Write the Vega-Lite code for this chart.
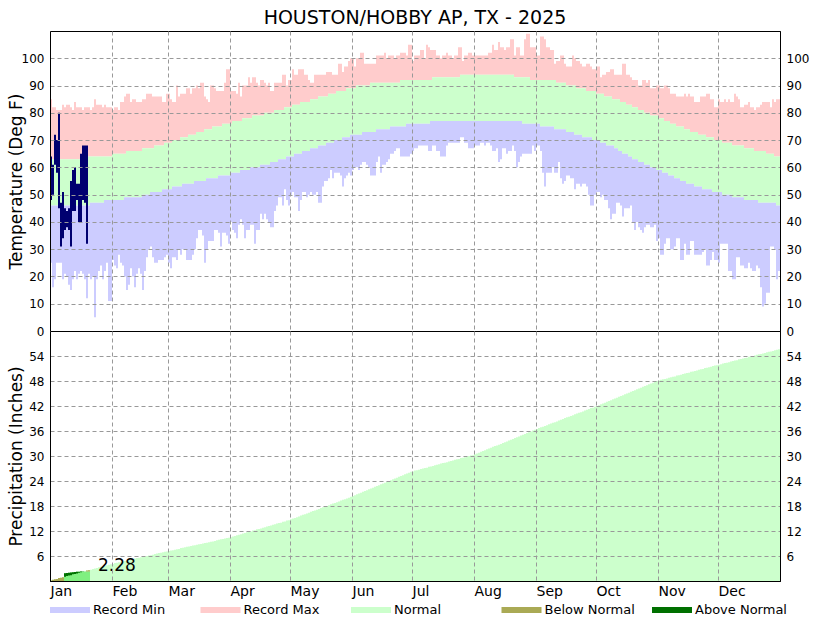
{
"$schema":"https://vega.github.io/schema/vega-lite/v6.json",
"background":"white",
"padding":{"left":6,"top":8,"right":10,"bottom":0},
"bounds":"flush",
"spacing":0,
"title":{"text":"HOUSTON/HOBBY AP, TX - 2025","font":"DejaVu Sans","fontSize":19,"fontWeight":"normal","color":"black","anchor":"middle","frame":"group","offset":3},
"datasets":{
"t":[
{"d":1,"rl":25,"nl":46,"nh":63,"rh":85,"pn":0.1},{"d":2,"rl":16,"nl":46,"nh":63,"rh":82,"pn":0.3},{"d":3,"rl":19,"nl":46,"nh":63,"rh":82,"pn":0.4},{"d":4,"rl":25,"nl":46,"nh":63,"rh":81,"pn":0.5},{"d":5,"rl":25,"nl":46,"nh":63,"rh":81,"pn":0.7},{"d":6,"rl":25,"nl":46,"nh":63,"rh":81,"pn":0.8},{"d":7,"rl":19,"nl":46,"nh":63,"rh":83,"pn":0.9},{"d":8,"rl":21,"nl":46,"nh":63,"rh":82,"pn":1.0},{"d":9,"rl":20,"nl":46,"nh":63,"rh":83,"pn":1.2},{"d":10,"rl":17,"nl":46,"nh":63,"rh":83,"pn":1.3},
{"d":11,"rl":15,"nl":46,"nh":63,"rh":82,"pn":1.4},{"d":12,"rl":19,"nl":46,"nh":63,"rh":81,"pn":1.6},{"d":13,"rl":22,"nl":46,"nh":63,"rh":84,"pn":1.7},{"d":14,"rl":19,"nl":46,"nh":63,"rh":82,"pn":1.8},{"d":15,"rl":21,"nl":46,"nh":63,"rh":82,"pn":2.0},{"d":16,"rl":22,"nl":46,"nh":63,"rh":82,"pn":2.1},{"d":17,"rl":21,"nl":46,"nh":63,"rh":81,"pn":2.2},{"d":18,"rl":19,"nl":46,"nh":63,"rh":82,"pn":2.3},{"d":19,"rl":12,"nl":46,"nh":63,"rh":82,"pn":2.5},{"d":20,"rl":21,"nl":46,"nh":64,"rh":82,"pn":2.6},
{"d":21,"rl":19,"nl":47,"nh":64,"rh":81,"pn":2.7},{"d":22,"rl":20,"nl":47,"nh":64,"rh":82,"pn":2.9},{"d":23,"rl":5,"nl":47,"nh":64,"rh":85,"pn":3.0},{"d":24,"rl":19,"nl":47,"nh":64,"rh":83,"pn":3.1},{"d":25,"rl":22,"nl":47,"nh":64,"rh":83,"pn":3.3},{"d":26,"rl":24,"nl":47,"nh":64,"rh":83,"pn":3.4},{"d":27,"rl":19,"nl":47,"nh":64,"rh":82,"pn":3.5},{"d":28,"rl":22,"nl":48,"nh":64,"rh":83,"pn":3.6},{"d":29,"rl":25,"nl":48,"nh":64,"rh":82,"pn":3.8},{"d":30,"rl":11,"nl":48,"nh":64,"rh":82,"pn":3.9},
{"d":31,"rl":11,"nl":48,"nh":64,"rh":82,"pn":4.0},{"d":32,"rl":26,"nl":48,"nh":65,"rh":81,"pn":4.1},{"d":33,"rl":24,"nl":48,"nh":65,"rh":82,"pn":4.3},{"d":34,"rl":23,"nl":48,"nh":65,"rh":82,"pn":4.4},{"d":35,"rl":28,"nl":48,"nh":65,"rh":81,"pn":4.5},{"d":36,"rl":25,"nl":48,"nh":65,"rh":84,"pn":4.6},{"d":37,"rl":24,"nl":48,"nh":65,"rh":84,"pn":4.7},{"d":38,"rl":20,"nl":49,"nh":65,"rh":86,"pn":4.8},{"d":39,"rl":15,"nl":49,"nh":66,"rh":87,"pn":4.9},{"d":40,"rl":17,"nl":49,"nh":66,"rh":87,"pn":5.0},
{"d":41,"rl":23,"nl":49,"nh":66,"rh":84,"pn":5.1},{"d":42,"rl":20,"nl":49,"nh":66,"rh":85,"pn":5.2},{"d":43,"rl":16,"nl":49,"nh":66,"rh":85,"pn":5.4},{"d":44,"rl":21,"nl":49,"nh":66,"rh":84,"pn":5.5},{"d":45,"rl":23,"nl":49,"nh":66,"rh":84,"pn":5.6},{"d":46,"rl":21,"nl":49,"nh":66,"rh":84,"pn":5.7},{"d":47,"rl":15,"nl":50,"nh":67,"rh":85,"pn":5.8},{"d":48,"rl":22,"nl":50,"nh":67,"rh":85,"pn":5.9},{"d":49,"rl":27,"nl":50,"nh":67,"rh":87,"pn":6.0},{"d":50,"rl":30,"nl":50,"nh":67,"rh":87,"pn":6.1},
{"d":51,"rl":31,"nl":51,"nh":67,"rh":87,"pn":6.2},{"d":52,"rl":27,"nl":51,"nh":67,"rh":86,"pn":6.3},{"d":53,"rl":25,"nl":51,"nh":68,"rh":86,"pn":6.5},{"d":54,"rl":25,"nl":51,"nh":68,"rh":86,"pn":6.6},{"d":55,"rl":26,"nl":51,"nh":68,"rh":86,"pn":6.7},{"d":56,"rl":26,"nl":51,"nh":68,"rh":86,"pn":6.8},{"d":57,"rl":26,"nl":52,"nh":68,"rh":84,"pn":6.9},{"d":58,"rl":27,"nl":52,"nh":69,"rh":84,"pn":7.0},{"d":59,"rl":28,"nl":52,"nh":69,"rh":87,"pn":7.1},{"d":60,"rl":25,"nl":52,"nh":69,"rh":87,"pn":7.2},
{"d":61,"rl":23,"nl":52,"nh":69,"rh":85,"pn":7.3},{"d":62,"rl":27,"nl":53,"nh":70,"rh":84,"pn":7.4},{"d":63,"rl":27,"nl":53,"nh":70,"rh":84,"pn":7.5},{"d":64,"rl":26,"nl":53,"nh":70,"rh":90,"pn":7.6},{"d":65,"rl":30,"nl":53,"nh":70,"rh":86,"pn":7.7},{"d":66,"rl":28,"nl":53,"nh":71,"rh":87,"pn":7.9},{"d":67,"rl":30,"nl":54,"nh":71,"rh":87,"pn":8.0},{"d":68,"rl":30,"nl":54,"nh":71,"rh":87,"pn":8.1},{"d":69,"rl":26,"nl":54,"nh":71,"rh":89,"pn":8.2},{"d":70,"rl":26,"nl":54,"nh":72,"rh":89,"pn":8.3},
{"d":71,"rl":26,"nl":54,"nh":72,"rh":87,"pn":8.4},{"d":72,"rl":28,"nl":54,"nh":72,"rh":89,"pn":8.5},{"d":73,"rl":30,"nl":55,"nh":72,"rh":89,"pn":8.6},{"d":74,"rl":34,"nl":55,"nh":73,"rh":90,"pn":8.7},{"d":75,"rl":37,"nl":55,"nh":73,"rh":89,"pn":8.8},{"d":76,"rl":37,"nl":55,"nh":73,"rh":91,"pn":8.9},{"d":77,"rl":35,"nl":55,"nh":73,"rh":91,"pn":9.0},{"d":78,"rl":25,"nl":55,"nh":74,"rh":86,"pn":9.1},{"d":79,"rl":30,"nl":56,"nh":74,"rh":85,"pn":9.2},{"d":80,"rl":33,"nl":56,"nh":74,"rh":84,"pn":9.3},
{"d":81,"rl":33,"nl":56,"nh":74,"rh":90,"pn":9.4},{"d":82,"rl":33,"nl":56,"nh":75,"rh":90,"pn":9.5},{"d":83,"rl":37,"nl":56,"nh":75,"rh":89,"pn":9.6},{"d":84,"rl":37,"nl":56,"nh":75,"rh":88,"pn":9.8},{"d":85,"rl":36,"nl":57,"nh":75,"rh":88,"pn":9.9},{"d":86,"rl":31,"nl":57,"nh":75,"rh":88,"pn":10.0},{"d":87,"rl":36,"nl":57,"nh":76,"rh":88,"pn":10.1},{"d":88,"rl":36,"nl":57,"nh":76,"rh":91,"pn":10.2},{"d":89,"rl":35,"nl":57,"nh":76,"rh":96,"pn":10.3},{"d":90,"rl":32,"nl":57,"nh":76,"rh":96,"pn":10.4},
{"d":91,"rl":40,"nl":58,"nh":76,"rh":88,"pn":10.5},{"d":92,"rl":37,"nl":58,"nh":77,"rh":88,"pn":10.7},{"d":93,"rl":36,"nl":58,"nh":77,"rh":88,"pn":10.8},{"d":94,"rl":34,"nl":58,"nh":77,"rh":87,"pn":11.0},{"d":95,"rl":39,"nl":58,"nh":77,"rh":91,"pn":11.1},{"d":96,"rl":41,"nl":59,"nh":77,"rh":86,"pn":11.2},{"d":97,"rl":39,"nl":59,"nh":78,"rh":90,"pn":11.4},{"d":98,"rl":34,"nl":59,"nh":78,"rh":90,"pn":11.5},{"d":99,"rl":37,"nl":59,"nh":78,"rh":90,"pn":11.7},{"d":100,"rl":37,"nl":59,"nh":78,"rh":93,"pn":11.8},
{"d":101,"rl":39,"nl":60,"nh":78,"rh":91,"pn":11.9},{"d":102,"rl":39,"nl":60,"nh":79,"rh":93,"pn":12.1},{"d":103,"rl":32,"nl":60,"nh":79,"rh":93,"pn":12.2},{"d":104,"rl":37,"nl":60,"nh":79,"rh":91,"pn":12.4},{"d":105,"rl":37,"nl":60,"nh":79,"rh":90,"pn":12.5},{"d":106,"rl":43,"nl":61,"nh":79,"rh":92,"pn":12.6},{"d":107,"rl":41,"nl":61,"nh":79,"rh":92,"pn":12.8},{"d":108,"rl":43,"nl":61,"nh":80,"rh":91,"pn":12.9},{"d":109,"rl":41,"nl":61,"nh":80,"rh":90,"pn":13.1},{"d":110,"rl":40,"nl":61,"nh":80,"rh":91,"pn":13.2},
{"d":111,"rl":38,"nl":62,"nh":80,"rh":88,"pn":13.3},{"d":112,"rl":38,"nl":62,"nh":80,"rh":88,"pn":13.5},{"d":113,"rl":44,"nl":62,"nh":81,"rh":91,"pn":13.6},{"d":114,"rl":46,"nl":62,"nh":81,"rh":91,"pn":13.8},{"d":115,"rl":49,"nl":63,"nh":81,"rh":91,"pn":13.9},{"d":116,"rl":49,"nl":63,"nh":81,"rh":91,"pn":14.0},{"d":117,"rl":46,"nl":63,"nh":81,"rh":94,"pn":14.2},{"d":118,"rl":52,"nl":63,"nh":82,"rh":94,"pn":14.3},{"d":119,"rl":48,"nl":64,"nh":82,"rh":90,"pn":14.5},{"d":120,"rl":46,"nl":64,"nh":82,"rh":92,"pn":14.6},
{"d":121,"rl":50,"nl":64,"nh":82,"rh":92,"pn":14.8},{"d":122,"rl":51,"nl":64,"nh":83,"rh":96,"pn":15.0},{"d":123,"rl":49,"nl":65,"nh":83,"rh":94,"pn":15.1},{"d":124,"rl":49,"nl":65,"nh":83,"rh":94,"pn":15.3},{"d":125,"rl":44,"nl":65,"nh":83,"rh":96,"pn":15.5},{"d":126,"rl":48,"nl":65,"nh":84,"rh":96,"pn":15.7},{"d":127,"rl":51,"nl":66,"nh":84,"rh":96,"pn":15.9},{"d":128,"rl":51,"nl":66,"nh":84,"rh":94,"pn":16.0},{"d":129,"rl":49,"nl":66,"nh":84,"rh":94,"pn":16.2},{"d":130,"rl":50,"nl":66,"nh":84,"rh":92,"pn":16.4},
{"d":131,"rl":51,"nl":67,"nh":85,"rh":91,"pn":16.6},{"d":132,"rl":50,"nl":67,"nh":85,"rh":91,"pn":16.8},{"d":133,"rl":50,"nl":67,"nh":85,"rh":94,"pn":16.9},{"d":134,"rl":51,"nl":67,"nh":85,"rh":94,"pn":17.1},{"d":135,"rl":47,"nl":68,"nh":86,"rh":94,"pn":17.3},{"d":136,"rl":47,"nl":68,"nh":86,"rh":94,"pn":17.5},{"d":137,"rl":53,"nl":68,"nh":86,"rh":94,"pn":17.7},{"d":138,"rl":55,"nl":68,"nh":86,"rh":94,"pn":17.8},{"d":139,"rl":55,"nl":69,"nh":86,"rh":95,"pn":18.0},{"d":140,"rl":56,"nl":69,"nh":87,"rh":95,"pn":18.2},
{"d":141,"rl":59,"nl":69,"nh":87,"rh":95,"pn":18.4},{"d":142,"rl":56,"nl":69,"nh":87,"rh":94,"pn":18.6},{"d":143,"rl":58,"nl":70,"nh":87,"rh":94,"pn":18.7},{"d":144,"rl":58,"nl":70,"nh":88,"rh":94,"pn":18.9},{"d":145,"rl":58,"nl":70,"nh":88,"rh":98,"pn":19.1},{"d":146,"rl":57,"nl":70,"nh":88,"rh":98,"pn":19.3},{"d":147,"rl":53,"nl":71,"nh":88,"rh":95,"pn":19.5},{"d":148,"rl":56,"nl":71,"nh":88,"rh":97,"pn":19.6},{"d":149,"rl":57,"nl":71,"nh":89,"rh":97,"pn":19.8},{"d":150,"rl":58,"nl":71,"nh":89,"rh":99,"pn":20.0},
{"d":151,"rl":57,"nl":72,"nh":89,"rh":100,"pn":20.2},{"d":152,"rl":59,"nl":72,"nh":89,"rh":100,"pn":20.4},{"d":153,"rl":60,"nl":72,"nh":89,"rh":97,"pn":20.6},{"d":154,"rl":60,"nl":72,"nh":90,"rh":100,"pn":20.8},{"d":155,"rl":59,"nl":72,"nh":90,"rh":100,"pn":21.0},{"d":156,"rl":61,"nl":72,"nh":90,"rh":102,"pn":21.2},{"d":157,"rl":62,"nl":73,"nh":90,"rh":102,"pn":21.4},{"d":158,"rl":62,"nl":73,"nh":90,"rh":98,"pn":21.6},{"d":159,"rl":61,"nl":73,"nh":90,"rh":98,"pn":21.8},{"d":160,"rl":60,"nl":73,"nh":90,"rh":98,"pn":22.0},
{"d":161,"rl":57,"nl":73,"nh":91,"rh":98,"pn":22.2},{"d":162,"rl":57,"nl":73,"nh":91,"rh":98,"pn":22.4},{"d":163,"rl":57,"nl":73,"nh":91,"rh":98,"pn":22.6},{"d":164,"rl":62,"nl":74,"nh":91,"rh":101,"pn":22.8},{"d":165,"rl":64,"nl":74,"nh":91,"rh":101,"pn":23.0},{"d":166,"rl":58,"nl":74,"nh":91,"rh":101,"pn":23.2},{"d":167,"rl":61,"nl":74,"nh":91,"rh":101,"pn":23.4},{"d":168,"rl":61,"nl":74,"nh":91,"rh":102,"pn":23.6},{"d":169,"rl":62,"nl":74,"nh":91,"rh":100,"pn":23.8},{"d":170,"rl":63,"nl":74,"nh":91,"rh":101,"pn":24.0},
{"d":171,"rl":65,"nl":75,"nh":91,"rh":101,"pn":24.2},{"d":172,"rl":65,"nl":75,"nh":91,"rh":101,"pn":24.4},{"d":173,"rl":66,"nl":75,"nh":91,"rh":100,"pn":24.6},{"d":174,"rl":67,"nl":75,"nh":91,"rh":101,"pn":24.8},{"d":175,"rl":67,"nl":75,"nh":91,"rh":101,"pn":25.0},{"d":176,"rl":64,"nl":75,"nh":92,"rh":102,"pn":25.2},{"d":177,"rl":64,"nl":75,"nh":92,"rh":102,"pn":25.4},{"d":178,"rl":64,"nl":75,"nh":92,"rh":102,"pn":25.6},{"d":179,"rl":64,"nl":76,"nh":92,"rh":101,"pn":25.8},{"d":180,"rl":64,"nl":76,"nh":92,"rh":105,"pn":26.0},
{"d":181,"rl":65,"nl":76,"nh":92,"rh":105,"pn":26.2},{"d":182,"rl":66,"nl":76,"nh":92,"rh":99,"pn":26.3},{"d":183,"rl":67,"nl":76,"nh":92,"rh":101,"pn":26.5},{"d":184,"rl":67,"nl":76,"nh":92,"rh":101,"pn":26.6},{"d":185,"rl":68,"nl":76,"nh":92,"rh":101,"pn":26.7},{"d":186,"rl":68,"nl":76,"nh":92,"rh":103,"pn":26.9},{"d":187,"rl":68,"nl":76,"nh":92,"rh":103,"pn":27.0},{"d":188,"rl":68,"nl":76,"nh":92,"rh":100,"pn":27.1},{"d":189,"rl":68,"nl":76,"nh":92,"rh":105,"pn":27.2},{"d":190,"rl":66,"nl":76,"nh":92,"rh":104,"pn":27.4},
{"d":191,"rl":66,"nl":77,"nh":92,"rh":103,"pn":27.5},{"d":192,"rl":68,"nl":77,"nh":93,"rh":103,"pn":27.6},{"d":193,"rl":68,"nl":77,"nh":93,"rh":103,"pn":27.8},{"d":194,"rl":66,"nl":77,"nh":93,"rh":101,"pn":27.9},{"d":195,"rl":66,"nl":77,"nh":93,"rh":101,"pn":28.0},{"d":196,"rl":64,"nl":77,"nh":93,"rh":100,"pn":28.2},{"d":197,"rl":64,"nl":77,"nh":93,"rh":101,"pn":28.3},{"d":198,"rl":64,"nl":77,"nh":93,"rh":101,"pn":28.4},{"d":199,"rl":68,"nl":77,"nh":93,"rh":102,"pn":28.5},{"d":200,"rl":69,"nl":77,"nh":93,"rh":101,"pn":28.7},
{"d":201,"rl":69,"nl":77,"nh":93,"rh":101,"pn":28.8},{"d":202,"rl":69,"nl":77,"nh":93,"rh":100,"pn":28.9},{"d":203,"rl":69,"nl":77,"nh":93,"rh":101,"pn":29.1},{"d":204,"rl":69,"nl":77,"nh":93,"rh":101,"pn":29.2},{"d":205,"rl":69,"nl":77,"nh":93,"rh":104,"pn":29.3},{"d":206,"rl":71,"nl":77,"nh":94,"rh":104,"pn":29.5},{"d":207,"rl":71,"nl":77,"nh":94,"rh":99,"pn":29.6},{"d":208,"rl":69,"nl":77,"nh":94,"rh":101,"pn":29.7},{"d":209,"rl":69,"nl":77,"nh":94,"rh":101,"pn":29.8},{"d":210,"rl":67,"nl":77,"nh":94,"rh":102,"pn":30.0},
{"d":211,"rl":67,"nl":77,"nh":94,"rh":102,"pn":30.1},{"d":212,"rl":67,"nl":77,"nh":94,"rh":101,"pn":30.2},{"d":213,"rl":68,"nl":77,"nh":94,"rh":101,"pn":30.4},{"d":214,"rl":68,"nl":77,"nh":94,"rh":101,"pn":30.6},{"d":215,"rl":68,"nl":77,"nh":94,"rh":101,"pn":30.8},{"d":216,"rl":69,"nl":77,"nh":94,"rh":101,"pn":31.0},{"d":217,"rl":69,"nl":77,"nh":94,"rh":101,"pn":31.2},{"d":218,"rl":68,"nl":77,"nh":94,"rh":101,"pn":31.4},{"d":219,"rl":69,"nl":77,"nh":94,"rh":101,"pn":31.6},{"d":220,"rl":69,"nl":77,"nh":94,"rh":102,"pn":31.8},
{"d":221,"rl":68,"nl":77,"nh":94,"rh":102,"pn":32.0},{"d":222,"rl":66,"nl":77,"nh":94,"rh":105,"pn":32.2},{"d":223,"rl":66,"nl":77,"nh":94,"rh":103,"pn":32.4},{"d":224,"rl":67,"nl":77,"nh":94,"rh":103,"pn":32.5},{"d":225,"rl":62,"nl":77,"nh":94,"rh":106,"pn":32.7},{"d":226,"rl":63,"nl":77,"nh":94,"rh":104,"pn":32.9},{"d":227,"rl":67,"nl":77,"nh":94,"rh":104,"pn":33.1},{"d":228,"rl":67,"nl":77,"nh":94,"rh":103,"pn":33.3},{"d":229,"rl":65,"nl":77,"nh":94,"rh":104,"pn":33.5},{"d":230,"rl":66,"nl":77,"nh":94,"rh":104,"pn":33.7},
{"d":231,"rl":66,"nl":77,"nh":94,"rh":107,"pn":33.9},{"d":232,"rl":68,"nl":77,"nh":94,"rh":107,"pn":34.1},{"d":233,"rl":66,"nl":77,"nh":93,"rh":101,"pn":34.3},{"d":234,"rl":60,"nl":77,"nh":93,"rh":104,"pn":34.5},{"d":235,"rl":62,"nl":77,"nh":93,"rh":104,"pn":34.7},{"d":236,"rl":64,"nl":77,"nh":93,"rh":101,"pn":34.9},{"d":237,"rl":65,"nl":76,"nh":93,"rh":101,"pn":35.1},{"d":238,"rl":65,"nl":76,"nh":93,"rh":107,"pn":35.3},{"d":239,"rl":65,"nl":76,"nh":93,"rh":109,"pn":35.5},{"d":240,"rl":65,"nl":76,"nh":93,"rh":109,"pn":35.7},
{"d":241,"rl":65,"nl":76,"nh":92,"rh":104,"pn":35.9},{"d":242,"rl":68,"nl":76,"nh":92,"rh":104,"pn":36.1},{"d":243,"rl":66,"nl":76,"nh":92,"rh":104,"pn":36.3},{"d":244,"rl":68,"nl":76,"nh":92,"rh":101,"pn":36.5},{"d":245,"rl":68,"nl":76,"nh":92,"rh":101,"pn":36.7},{"d":246,"rl":66,"nl":75,"nh":92,"rh":108,"pn":36.9},{"d":247,"rl":58,"nl":75,"nh":92,"rh":108,"pn":37.0},{"d":248,"rl":53,"nl":75,"nh":92,"rh":107,"pn":37.2},{"d":249,"rl":58,"nl":75,"nh":92,"rh":104,"pn":37.4},{"d":250,"rl":58,"nl":75,"nh":92,"rh":104,"pn":37.6},
{"d":251,"rl":58,"nl":75,"nh":92,"rh":103,"pn":37.8},{"d":252,"rl":60,"nl":75,"nh":92,"rh":103,"pn":38.0},{"d":253,"rl":58,"nl":74,"nh":92,"rh":98,"pn":38.1},{"d":254,"rl":58,"nl":74,"nh":91,"rh":99,"pn":38.3},{"d":255,"rl":62,"nl":74,"nh":91,"rh":99,"pn":38.5},{"d":256,"rl":56,"nl":74,"nh":91,"rh":101,"pn":38.7},{"d":257,"rl":54,"nl":74,"nh":91,"rh":101,"pn":38.9},{"d":258,"rl":55,"nl":74,"nh":91,"rh":98,"pn":39.1},{"d":259,"rl":57,"nl":73,"nh":90,"rh":97,"pn":39.3},{"d":260,"rl":57,"nl":73,"nh":90,"rh":97,"pn":39.4},
{"d":261,"rl":56,"nl":73,"nh":90,"rh":97,"pn":39.6},{"d":262,"rl":56,"nl":73,"nh":90,"rh":101,"pn":39.8},{"d":263,"rl":52,"nl":72,"nh":90,"rh":100,"pn":40.0},{"d":264,"rl":54,"nl":72,"nh":89,"rh":99,"pn":40.2},{"d":265,"rl":54,"nl":72,"nh":89,"rh":99,"pn":40.4},{"d":266,"rl":53,"nl":72,"nh":89,"rh":98,"pn":40.5},{"d":267,"rl":54,"nl":71,"nh":89,"rh":97,"pn":40.7},{"d":268,"rl":54,"nl":71,"nh":89,"rh":97,"pn":40.9},{"d":269,"rl":53,"nl":71,"nh":88,"rh":98,"pn":41.1},{"d":270,"rl":50,"nl":71,"nh":88,"rh":98,"pn":41.3},
{"d":271,"rl":46,"nl":71,"nh":88,"rh":97,"pn":41.5},{"d":272,"rl":46,"nl":70,"nh":88,"rh":96,"pn":41.6},{"d":273,"rl":50,"nl":70,"nh":88,"rh":96,"pn":41.8},{"d":274,"rl":51,"nl":70,"nh":87,"rh":97,"pn":42.0},{"d":275,"rl":51,"nl":70,"nh":87,"rh":97,"pn":42.2},{"d":276,"rl":49,"nl":69,"nh":87,"rh":93,"pn":42.4},{"d":277,"rl":50,"nl":69,"nh":87,"rh":94,"pn":42.6},{"d":278,"rl":48,"nl":69,"nh":86,"rh":94,"pn":42.8},{"d":279,"rl":48,"nl":68,"nh":86,"rh":95,"pn":43.0},{"d":280,"rl":45,"nl":68,"nh":86,"rh":95,"pn":43.2},
{"d":281,"rl":41,"nl":68,"nh":86,"rh":96,"pn":43.4},{"d":282,"rl":43,"nl":68,"nh":85,"rh":96,"pn":43.6},{"d":283,"rl":43,"nl":67,"nh":85,"rh":94,"pn":43.8},{"d":284,"rl":47,"nl":67,"nh":85,"rh":94,"pn":44.0},{"d":285,"rl":47,"nl":66,"nh":85,"rh":94,"pn":44.2},{"d":286,"rl":46,"nl":66,"nh":84,"rh":94,"pn":44.4},{"d":287,"rl":42,"nl":65,"nh":84,"rh":98,"pn":44.6},{"d":288,"rl":45,"nl":65,"nh":84,"rh":98,"pn":44.8},{"d":289,"rl":45,"nl":65,"nh":83,"rh":94,"pn":45.0},{"d":290,"rl":45,"nl":64,"nh":83,"rh":94,"pn":45.2},
{"d":291,"rl":46,"nl":64,"nh":83,"rh":93,"pn":45.4},{"d":292,"rl":40,"nl":63,"nh":82,"rh":92,"pn":45.6},{"d":293,"rl":37,"nl":63,"nh":82,"rh":92,"pn":45.8},{"d":294,"rl":40,"nl":63,"nh":82,"rh":92,"pn":46.0},{"d":295,"rl":38,"nl":62,"nh":81,"rh":90,"pn":46.2},{"d":296,"rl":37,"nl":62,"nh":81,"rh":90,"pn":46.4},{"d":297,"rl":36,"nl":62,"nh":81,"rh":92,"pn":46.6},{"d":298,"rl":38,"nl":61,"nh":80,"rh":92,"pn":46.8},{"d":299,"rl":39,"nl":61,"nh":80,"rh":91,"pn":47.0},{"d":300,"rl":39,"nl":61,"nh":80,"rh":92,"pn":47.2},
{"d":301,"rl":38,"nl":60,"nh":79,"rh":89,"pn":47.4},{"d":302,"rl":38,"nl":60,"nh":79,"rh":89,"pn":47.6},{"d":303,"rl":39,"nl":60,"nh":79,"rh":89,"pn":47.8},{"d":304,"rl":33,"nl":59,"nh":79,"rh":90,"pn":48.0},{"d":305,"rl":34,"nl":59,"nh":78,"rh":90,"pn":48.1},{"d":306,"rl":28,"nl":59,"nh":78,"rh":89,"pn":48.3},{"d":307,"rl":28,"nl":58,"nh":78,"rh":89,"pn":48.4},{"d":308,"rl":32,"nl":58,"nh":77,"rh":90,"pn":48.5},{"d":309,"rl":34,"nl":58,"nh":77,"rh":90,"pn":48.6},{"d":310,"rl":34,"nl":57,"nh":77,"rh":89,"pn":48.8},
{"d":311,"rl":30,"nl":57,"nh":76,"rh":87,"pn":48.9},{"d":312,"rl":30,"nl":57,"nh":76,"rh":87,"pn":49.0},{"d":313,"rl":31,"nl":56,"nh":76,"rh":87,"pn":49.1},{"d":314,"rl":34,"nl":56,"nh":75,"rh":86,"pn":49.3},{"d":315,"rl":34,"nl":56,"nh":75,"rh":86,"pn":49.4},{"d":316,"rl":26,"nl":55,"nh":75,"rh":86,"pn":49.5},{"d":317,"rl":26,"nl":55,"nh":75,"rh":86,"pn":49.7},{"d":318,"rl":32,"nl":55,"nh":74,"rh":87,"pn":49.8},{"d":319,"rl":28,"nl":54,"nh":74,"rh":86,"pn":49.9},{"d":320,"rl":28,"nl":54,"nh":74,"rh":87,"pn":50.0},
{"d":321,"rl":33,"nl":54,"nh":73,"rh":86,"pn":50.2},{"d":322,"rl":33,"nl":54,"nh":73,"rh":86,"pn":50.3},{"d":323,"rl":28,"nl":53,"nh":73,"rh":84,"pn":50.4},{"d":324,"rl":28,"nl":53,"nh":73,"rh":84,"pn":50.5},{"d":325,"rl":28,"nl":53,"nh":72,"rh":84,"pn":50.7},{"d":326,"rl":28,"nl":53,"nh":72,"rh":86,"pn":50.8},{"d":327,"rl":29,"nl":52,"nh":72,"rh":86,"pn":50.9},{"d":328,"rl":30,"nl":52,"nh":72,"rh":86,"pn":51.1},{"d":329,"rl":24,"nl":52,"nh":71,"rh":87,"pn":51.2},{"d":330,"rl":24,"nl":52,"nh":71,"rh":87,"pn":51.3},
{"d":331,"rl":26,"nl":52,"nh":71,"rh":85,"pn":51.4},{"d":332,"rl":29,"nl":51,"nh":71,"rh":85,"pn":51.6},{"d":333,"rl":26,"nl":51,"nh":70,"rh":82,"pn":51.7},{"d":334,"rl":26,"nl":51,"nh":70,"rh":82,"pn":51.8},{"d":335,"rl":25,"nl":51,"nh":70,"rh":85,"pn":51.9},{"d":336,"rl":32,"nl":51,"nh":70,"rh":84,"pn":52.0},{"d":337,"rl":32,"nl":50,"nh":69,"rh":84,"pn":52.2},{"d":338,"rl":32,"nl":50,"nh":69,"rh":85,"pn":52.3},{"d":339,"rl":32,"nl":50,"nh":69,"rh":84,"pn":52.4},{"d":340,"rl":22,"nl":50,"nh":69,"rh":85,"pn":52.5},
{"d":341,"rl":22,"nl":50,"nh":69,"rh":84,"pn":52.7},{"d":342,"rl":19,"nl":49,"nh":68,"rh":84,"pn":52.8},{"d":343,"rl":19,"nl":49,"nh":68,"rh":87,"pn":52.9},{"d":344,"rl":27,"nl":49,"nh":68,"rh":86,"pn":53.0},{"d":345,"rl":27,"nl":49,"nh":68,"rh":85,"pn":53.2},{"d":346,"rl":24,"nl":49,"nh":68,"rh":82,"pn":53.3},{"d":347,"rl":24,"nl":49,"nh":68,"rh":82,"pn":53.4},{"d":348,"rl":23,"nl":48,"nh":67,"rh":83,"pn":53.5},{"d":349,"rl":23,"nl":48,"nh":67,"rh":83,"pn":53.6},{"d":350,"rl":25,"nl":48,"nh":67,"rh":84,"pn":53.8},
{"d":351,"rl":23,"nl":48,"nh":67,"rh":82,"pn":53.9},{"d":352,"rl":22,"nl":48,"nh":67,"rh":82,"pn":54.0},{"d":353,"rl":22,"nl":48,"nh":66,"rh":81,"pn":54.1},{"d":354,"rl":24,"nl":48,"nh":66,"rh":82,"pn":54.3},{"d":355,"rl":23,"nl":47,"nh":66,"rh":82,"pn":54.4},{"d":356,"rl":16,"nl":47,"nh":66,"rh":83,"pn":54.5},{"d":357,"rl":9,"nl":47,"nh":66,"rh":84,"pn":54.6},{"d":358,"rl":10,"nl":47,"nh":66,"rh":84,"pn":54.7},{"d":359,"rl":14,"nl":47,"nh":65,"rh":84,"pn":54.9},{"d":360,"rl":14,"nl":47,"nh":65,"rh":84,"pn":55.0},
{"d":361,"rl":31,"nl":47,"nh":65,"rh":82,"pn":55.1},{"d":362,"rl":31,"nl":47,"nh":65,"rh":85,"pn":55.2},{"d":363,"rl":30,"nl":47,"nh":64,"rh":84,"pn":55.4},{"d":364,"rl":19,"nl":46,"nh":64,"rh":85,"pn":55.5},{"d":365,"rl":22,"nl":46,"nh":64,"rh":85,"pn":55.6}
],
"o":[
{"d":1,"lo":48,"hi":64},{"d":2,"lo":50,"hi":61},{"d":3,"lo":61,"hi":72},{"d":4,"lo":58,"hi":70},{"d":5,"lo":45,"hi":80},{"d":6,"lo":31,"hi":47},{"d":7,"lo":34,"hi":51},{"d":8,"lo":37,"hi":45},{"d":9,"lo":38,"hi":44},{"d":10,"lo":37,"hi":45},
{"d":11,"lo":31,"hi":55},{"d":12,"lo":44,"hi":59},{"d":13,"lo":44,"hi":60},{"d":14,"lo":48,"hi":54},{"d":15,"lo":40,"hi":54},{"d":16,"lo":40,"hi":65},{"d":17,"lo":48,"hi":68},{"d":18,"lo":47,"hi":68},{"d":19,"lo":32,"hi":68}
],
"po":[
{"d":1,"ob":0,"pn":0.1},{"d":2,"ob":0,"pn":0.3},{"d":3,"ob":0,"pn":0.4},{"d":4,"ob":0,"pn":0.5},{"d":5,"ob":0,"pn":0.7},{"d":6,"ob":0,"pn":0.8},{"d":7,"ob":0,"pn":0.9},{"d":8,"ob":1.85,"pn":1.0},{"d":9,"ob":1.9,"pn":1.2},{"d":10,"ob":2.0,"pn":1.3},
{"d":11,"ob":2.05,"pn":1.4},{"d":12,"ob":2.1,"pn":1.6},{"d":13,"ob":2.15,"pn":1.7},{"d":14,"ob":2.2,"pn":1.8},{"d":15,"ob":2.25,"pn":2.0},{"d":16,"ob":2.28,"pn":2.1},{"d":17,"ob":2.28,"pn":2.2},{"d":18,"ob":2.28,"pn":2.3},{"d":19,"ob":2.28,"pn":2.5},{"d":20,"ob":2.28,"pn":2.6}
]
},
"vconcat":[
{
"width":730,"height":300,
"encoding":{"x":{"field":"d","type":"quantitative","scale":{"domain":[0.5,365.5],"nice":false,"zero":false,"padding":0},"axis":{"values":[0.5,31.5,59.5,90.5,120.5,151.5,181.5,212.5,243.5,273.5,304.5,334.5],"labels":false,"grid":true,"domain":true,"zindex":1,"title":null}}},
"layer":[
{"data":{"name":"t"},
"layer":[
{"mark":{"type":"bar","size":2},"encoding":{"y":{"field":"nh","type":"quantitative","title":"Temperature (Deg F)","scale":{"domain":[0,110],"nice":false,"zero":false,"padding":0},"axis":{"orient":"left","values":[0,10,20,30,40,50,60,70,80,90,100],"labelOverlap":false,"grid":true,"domain":true,"zindex":1,"titleX":-34,"titleBaseline":"middle"}},"y2":{"field":"rh"},
"color":{"datum":"Record Max","type":"nominal","scale":{"domain":["Record Min","Record Max","Normal","Below Normal","Above Normal"],"range":["#CCCCFF","#FFCCCC","#CCFFCC","#AAAA55","#007000"]},"legend":{"title":null,"orient":"none","legendX":0,"legendY":569,"direction":"horizontal","columns":5,"symbolType":"M-1,-0.3H3V0.3H-1Z","symbolSize":400,"symbolStrokeWidth":0,"symbolOpacity":1,"labelFont":"DejaVu Sans","labelFontSize":13,"labelColor":"black","labelOffset":23,"gridAlign":"all","columnPadding":15.5,"padding":0,"labelLimit":300}}}},
{"mark":{"type":"bar","size":2},"encoding":{"y":{"field":"nl","type":"quantitative","title":"Temperature (Deg F)","scale":{"domain":[0,110],"nice":false,"zero":false,"padding":0},"axis":{"orient":"left","values":[0,10,20,30,40,50,60,70,80,90,100],"labelOverlap":false,"grid":true,"domain":true,"zindex":1,"titleX":-34,"titleBaseline":"middle"}},"y2":{"field":"nh"},
"color":{"datum":"Normal","type":"nominal","scale":{"domain":["Record Min","Record Max","Normal","Below Normal","Above Normal"],"range":["#CCCCFF","#FFCCCC","#CCFFCC","#AAAA55","#007000"]},"legend":{"title":null,"orient":"none","legendX":0,"legendY":569,"direction":"horizontal","columns":5,"symbolType":"M-1,-0.3H3V0.3H-1Z","symbolSize":400,"symbolStrokeWidth":0,"symbolOpacity":1,"labelFont":"DejaVu Sans","labelFontSize":13,"labelColor":"black","labelOffset":23,"gridAlign":"all","columnPadding":15.5,"padding":0,"labelLimit":300}}}},
{"mark":{"type":"bar","size":2},"encoding":{"y":{"field":"rl","type":"quantitative","title":"Temperature (Deg F)","scale":{"domain":[0,110],"nice":false,"zero":false,"padding":0},"axis":{"orient":"left","values":[0,10,20,30,40,50,60,70,80,90,100],"labelOverlap":false,"grid":true,"domain":true,"zindex":1,"titleX":-34,"titleBaseline":"middle"}},"y2":{"field":"nl"},
"color":{"datum":"Record Min","type":"nominal","scale":{"domain":["Record Min","Record Max","Normal","Below Normal","Above Normal"],"range":["#CCCCFF","#FFCCCC","#CCFFCC","#AAAA55","#007000"]},"legend":{"title":null,"orient":"none","legendX":0,"legendY":569,"direction":"horizontal","columns":5,"symbolType":"M-1,-0.3H3V0.3H-1Z","symbolSize":400,"symbolStrokeWidth":0,"symbolOpacity":1,"labelFont":"DejaVu Sans","labelFontSize":13,"labelColor":"black","labelOffset":23,"gridAlign":"all","columnPadding":15.5,"padding":0,"labelLimit":300}}}}
]},
{"data":{"name":"o"},"mark":{"type":"bar","size":2,"color":"#000070"},"encoding":{"y":{"field":"lo","type":"quantitative","scale":{"domain":[0,110],"nice":false,"zero":false,"padding":0},"axis":{"orient":"right","values":[0,10,20,30,40,50,60,70,80,90,100],"labelOverlap":false,"grid":false,"domain":true,"zindex":1,"title":null}},"y2":{"field":"hi"}}}
],
"resolve":{"scale":{"y":"independent"}}
},
{
"width":730,"height":250,
"encoding":{"x":{"field":"d","type":"quantitative","scale":{"domain":[0.5,365.5],"nice":false,"zero":false,"padding":0},"axis":{"values":[0.5,31.5,59.5,90.5,120.5,151.5,181.5,212.5,243.5,273.5,304.5,334.5],"labelExpr":"timeFormat(datetime(2025,0,datum.value+0.5),'%b')","labelAlign":"left","labelBaseline":"top","labelPadding":3,"labelFontSize":14,"labelFlush":false,"labelOverlap":false,"grid":true,"domain":true,"zindex":1,"title":null}}},
"layer":[
{"data":{"name":"t"},"mark":{"type":"bar","size":2},"encoding":{"y":{"field":"pn","type":"quantitative","scale":{"domain":[0,60],"nice":false,"zero":true,"padding":0},"axis":{"orient":"right","values":[6,12,18,24,30,36,42,48,54],"labelOverlap":false,"grid":false,"domain":true,"zindex":1,"title":null}},
"color":{"datum":"Normal","type":"nominal","scale":{"domain":["Record Min","Record Max","Normal","Below Normal","Above Normal"],"range":["#CCCCFF","#FFCCCC","#CCFFCC","#AAAA55","#007000"]},"legend":{"title":null,"orient":"none","legendX":0,"legendY":569,"direction":"horizontal","columns":5,"symbolType":"M-1,-0.3H3V0.3H-1Z","symbolSize":400,"symbolStrokeWidth":0,"symbolOpacity":1,"labelFont":"DejaVu Sans","labelFontSize":13,"labelColor":"black","labelOffset":23,"gridAlign":"all","columnPadding":15.5,"padding":0,"labelLimit":300}}}},
{"data":{"name":"po"},
"layer":[
{"mark":{"type":"bar","size":2,"color":"#80F080"},"encoding":{"y":{"field":"ob","type":"quantitative","title":"Precipitation (Inches)","scale":{"domain":[0,60],"nice":false,"zero":true,"padding":0},"axis":{"orient":"left","values":[6,12,18,24,30,36,42,48,54],"labelOverlap":false,"grid":true,"domain":true,"zindex":1,"titleX":-34,"titleBaseline":"middle"}}}},
{"transform":[{"filter":"datum.ob < datum.pn"}],"mark":{"type":"bar","size":2},"encoding":{"y":{"field":"ob","type":"quantitative","title":"Precipitation (Inches)","scale":{"domain":[0,60],"nice":false,"zero":true,"padding":0},"axis":{"orient":"left","values":[6,12,18,24,30,36,42,48,54],"labelOverlap":false,"grid":true,"domain":true,"zindex":1,"titleX":-34,"titleBaseline":"middle"}},"y2":{"field":"pn"},
"color":{"datum":"Below Normal","type":"nominal","scale":{"domain":["Record Min","Record Max","Normal","Below Normal","Above Normal"],"range":["#CCCCFF","#FFCCCC","#CCFFCC","#AAAA55","#007000"]},"legend":{"title":null,"orient":"none","legendX":0,"legendY":569,"direction":"horizontal","columns":5,"symbolType":"M-1,-0.3H3V0.3H-1Z","symbolSize":400,"symbolStrokeWidth":0,"symbolOpacity":1,"labelFont":"DejaVu Sans","labelFontSize":13,"labelColor":"black","labelOffset":23,"gridAlign":"all","columnPadding":15.5,"padding":0,"labelLimit":300}}}},
{"transform":[{"filter":"datum.ob > datum.pn"}],"mark":{"type":"bar","size":2},"encoding":{"y":{"field":"pn","type":"quantitative","title":"Precipitation (Inches)","scale":{"domain":[0,60],"nice":false,"zero":true,"padding":0},"axis":{"orient":"left","values":[6,12,18,24,30,36,42,48,54],"labelOverlap":false,"grid":true,"domain":true,"zindex":1,"titleX":-34,"titleBaseline":"middle"}},"y2":{"field":"ob"},
"color":{"datum":"Above Normal","type":"nominal","scale":{"domain":["Record Min","Record Max","Normal","Below Normal","Above Normal"],"range":["#CCCCFF","#FFCCCC","#CCFFCC","#AAAA55","#007000"]},"legend":{"title":null,"orient":"none","legendX":0,"legendY":569,"direction":"horizontal","columns":5,"symbolType":"M-1,-0.3H3V0.3H-1Z","symbolSize":400,"symbolStrokeWidth":0,"symbolOpacity":1,"labelFont":"DejaVu Sans","labelFontSize":13,"labelColor":"black","labelOffset":23,"gridAlign":"all","columnPadding":15.5,"padding":0,"labelLimit":300}}}},
{"transform":[{"filter":"datum.d == 20"}],"mark":{"type":"text","align":"left","baseline":"alphabetic","dx":9,"dy":-1,"font":"DejaVu Sans","fontSize":17,"color":"black"},"encoding":{"y":{"field":"ob","type":"quantitative","title":"Precipitation (Inches)","scale":{"domain":[0,60],"nice":false,"zero":true,"padding":0},"axis":{"orient":"left","values":[6,12,18,24,30,36,42,48,54],"labelOverlap":false,"grid":true,"domain":true,"zindex":1,"titleX":-34,"titleBaseline":"middle"}},"text":{"field":"ob","type":"quantitative","format":".2f"}}}
]}
],
"resolve":{"scale":{"y":"independent"}}
}
],
"resolve":{"scale":{"color":"shared"},"legend":{"color":"shared"}},
"config":{
"view":{"stroke":"black","strokeWidth":1},
"axis":{"labelFont":"DejaVu Sans","labelFontSize":12,"labelColor":"black","titleFont":"DejaVu Sans","titleFontSize":17,"titleFontWeight":"normal","titleColor":"black","ticks":false,"tickSize":0,"domainColor":"black","domainWidth":1,"gridColor":"#999999","gridDash":[4,3],"gridOpacity":1,"gridWidth":1,"labelPadding":6}
}
}
